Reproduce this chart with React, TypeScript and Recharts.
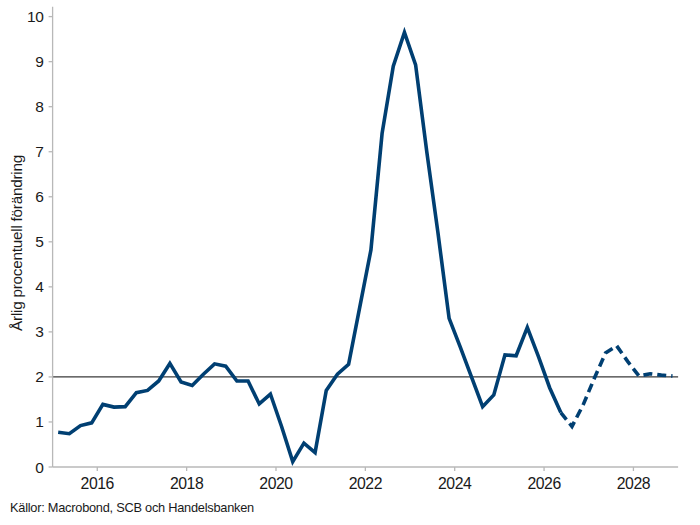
import React from 'react';
import { LineChart, Line, XAxis, YAxis, ReferenceLine } from 'recharts';

// Quarterly periods (mid-quarter placement on a yearly axis)
const quarters: string[] = [
  '2015Q1', '2015Q2', '2015Q3', '2015Q4',
  '2016Q1', '2016Q2', '2016Q3', '2016Q4',
  '2017Q1', '2017Q2', '2017Q3', '2017Q4',
  '2018Q1', '2018Q2', '2018Q3', '2018Q4',
  '2019Q1', '2019Q2', '2019Q3', '2019Q4',
  '2020Q1', '2020Q2', '2020Q3', '2020Q4',
  '2021Q1', '2021Q2', '2021Q3', '2021Q4',
  '2022Q1', '2022Q2', '2022Q3', '2022Q4',
  '2023Q1', '2023Q2', '2023Q3', '2023Q4',
  '2024Q1', '2024Q2', '2024Q3', '2024Q4',
  '2025Q1', '2025Q2', '2025Q3', '2025Q4',
  '2026Q1', '2026Q2', '2026Q3', '2026Q4',
  '2027Q1', '2027Q2', '2027Q3', '2027Q4',
  '2028Q1', '2028Q2', '2028Q3', '2028Q4',
];

// Outcome (solid line), 2015Q1 – 2026Q2
const actual: number[] = [
  0.77, 0.74, 0.92, 0.98,
  1.39, 1.33, 1.34, 1.65,
  1.70, 1.91, 2.30, 1.89,
  1.81, 2.06, 2.29, 2.24,
  1.91, 1.91, 1.40, 1.62,
  0.90, 0.12, 0.53, 0.32,
  1.70, 2.06, 2.28, 3.55,
  4.82, 7.41, 8.90, 9.65,
  8.93, 7.00, 5.20, 3.30,
  2.66, 2.00, 1.34, 1.60,
  2.49, 2.47, 3.10, 2.45,
  1.76, 1.21,
];

// Forecast (dashed line), starts at 2026Q2
const forecastStart = '2026Q2';
const forecast: number[] = [1.21, 0.90, 1.38, 1.97, 2.53, 2.69, 2.34, 2.02, 2.07, 2.04, 2.02];

const xTicks: number[] = [2016, 2018, 2020, 2022, 2024, 2026, 2028];
const yTicks: number[] = [0, 1, 2, 3, 4, 5, 6, 7, 8, 9, 10];
const targetLevel = 2;

const yLabel = 'Årlig procentuell förändring';
const source = 'Källor: Macrobond, SCB och Handelsbanken';

const fIdx = quarters.indexOf(forecastStart);
const data = quarters.map((q, i) => {
  const year = parseInt(q.slice(0, 4), 10);
  const qn = parseInt(q.slice(5), 10);
  return {
    period: q,
    t: year + (qn - 1) * 0.25 + 0.125,
    actual: i < actual.length ? actual[i] : null,
    forecast: i >= fIdx && i - fIdx < forecast.length ? forecast[i - fIdx] : null,
  };
});

const FONT = '"Liberation Sans", Arial, Helvetica, sans-serif';
const BLUE = '#003f72';
const AXIS = '#b8b8b8';

const YLabel = () => (
  <text
    transform="translate(22,243) rotate(-90)"
    textAnchor="middle"
    fill="#1a1a1a"
    fontSize={15.3}
    fontFamily={FONT}
    letterSpacing={-0.25}
  >
    {yLabel}
  </text>
);

export default function App() {
  return (
    <div style={{ position: 'absolute', left: 0, top: 0, width: 700, height: 525, background: '#fff', fontFamily: FONT }}>
      <LineChart
        width={700}
        height={525}
        data={data}
        margin={{ top: 6.7, right: 21.9, left: 0, bottom: 0 }}
      >
        <XAxis
          type="number"
          dataKey="t"
          domain={[2015, 2029]}
          ticks={xTicks}
          interval={0}
          height={58}
          tickSize={4}
          tickMargin={7}
          axisLine={{ stroke: AXIS, strokeWidth: 1.3 }}
          tickLine={{ stroke: AXIS, strokeWidth: 1.3 }}
          tick={{ fill: '#1a1a1a', fontSize: 15.8, fontFamily: FONT, letterSpacing: -0.45 }}
        />
        <YAxis
          type="number"
          domain={[0, 10.22]}
          ticks={yTicks}
          interval={0}
          width={52.6}
          tickSize={4}
          tickMargin={5}
          allowDataOverflow
          axisLine={{ stroke: AXIS, strokeWidth: 1.3 }}
          tickLine={{ stroke: AXIS, strokeWidth: 1.3 }}
          tick={{ fill: '#1a1a1a', fontSize: 15.5, fontFamily: FONT, letterSpacing: -0.3 }}
          label={{ content: YLabel }}
        />
        <ReferenceLine y={targetLevel} stroke="#3a3a3a" strokeWidth={1.2} />
        <Line
          type="linear"
          dataKey="actual"
          stroke={BLUE}
          strokeWidth={3.6}
          dot={false}
          activeDot={false}
          isAnimationActive={false}
          strokeLinejoin="miter"
        />
        <Line
          type="linear"
          dataKey="forecast"
          stroke={BLUE}
          strokeWidth={3.6}
          strokeDasharray="9 5"
          dot={false}
          activeDot={false}
          isAnimationActive={false}
        />
      </LineChart>
      <div
        style={{
          position: 'absolute',
          left: 10,
          top: 500,
          fontSize: 12.8,
          color: '#1a1a1a',
          fontFamily: FONT,
          letterSpacing: -0.25,
          whiteSpace: 'nowrap',
        }}
      >
        {source}
      </div>
    </div>
  );
}
